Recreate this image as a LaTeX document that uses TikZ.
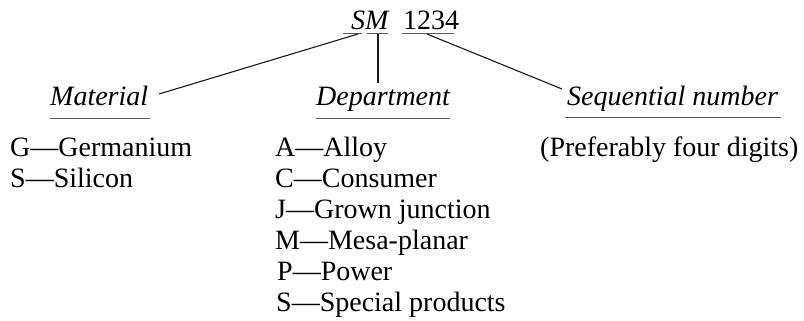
\documentclass[tikz,border=0pt]{standalone}
\usepackage{fontspec}
\setmainfont{Liberation Serif}
\begin{document}
\begin{tikzpicture}[x=1pt,y=-1pt,
  txt/.style={anchor=base west, inner sep=0pt, font=\fontsize{28}{31}\selectfont},
  head/.style={anchor=base west, inner sep=0pt, font=\fontsize{28}{31}\selectfont\itshape},
  rule/.style={line width=1pt, black!65},
  link/.style={line width=1.1pt, black!90}]
\useasboundingbox (0,0) rectangle (804,321);

% type code
\node[head] (sm) at (351,30) {SM};
\node[txt] (num) at (403,30) {1234};
\coordinate (sa) at (343,34); \coordinate (sb) at (362,34);
\coordinate (ma) at (367,34); \coordinate (mb) at (388,34);
\coordinate (na) at (402,34); \coordinate (nb) at (454,34);
\draw[rule] (sa) -- (sb);
\draw[rule] (ma) -- (mb);
\draw[rule] (na) -- (nb);

% headings
\node[head] (mat) at (50,106) {Material};
\node[head] (dep) at (316,106) {Department};
\node[head] (seq) at (567,106) {Sequential number};
\draw[rule] ([yshift=-13pt]mat.base west) -- ([xshift=2pt,yshift=-13pt]mat.base east);
\draw[rule] ([yshift=-13pt]dep.base west) -- ([yshift=-13pt]dep.base east);
\draw[rule] ([xshift=-2pt,yshift=-12pt]seq.base west) -- ([xshift=3pt,yshift=-12pt]seq.base east);

% connectors
\coordinate (sjoin) at (358,34);
\coordinate (mjoin) at (378,34);
\coordinate (njoin) at (427,34);
\coordinate (matend) at (159,94);
\coordinate (depend) at (378,83);
\coordinate (seqend) at (562,89);
\draw[link] (sjoin) -- (matend);
\draw[link] (mjoin) -- (depend);
\draw[link] (njoin) -- (seqend);

% material codes
\node[txt] (g) at (10,156) {G---Germanium};
\node[txt] (s) at (10,187) {S---Silicon};

% department codes
\node[txt] (a) at (275,156) {A---Alloy};
\node[txt] (c) at (275,187) {C---Consumer};
\node[txt] (j) at (275,218) {J---Grown junction};
\node[txt] (m) at (275,249) {M---Mesa-planar};
\node[txt] (p) at (277,280) {P---Power};
\node[txt] (sp) at (276,311) {S---Special products};

% sequential number note
\node[txt] (pref) at (540,156) {(Preferably four digits)};
\end{tikzpicture}
\end{document}
